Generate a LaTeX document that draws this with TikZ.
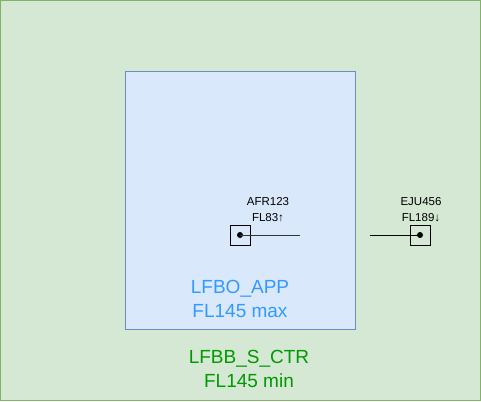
\documentclass[tikz,border=0pt]{standalone}
\usepackage{fontspec}
\setmainfont{Liberation Sans}
\definecolor{outerfill}{HTML}{D5E8D4}
\definecolor{outerdraw}{HTML}{82B366}
\definecolor{innerfill}{HTML}{DAE8FC}
\definecolor{innerdraw}{HTML}{6C8EBF}
\definecolor{bluetxt}{HTML}{3399FF}
\definecolor{greentxt}{HTML}{009900}
\begin{document}
\begin{tikzpicture}[x=1pt,y=-1pt,
  zone/.style={draw=#1, line width=1pt},
  bigtxt/.style={font=\fontsize{19}{24}\selectfont, align=center, inner sep=0pt},
  smalltxt/.style={font=\fontsize{11.5}{16}\selectfont, align=center, inner sep=0pt},
  acbox/.style={draw=black, line width=0.8pt, minimum width=20pt, minimum height=20pt, inner sep=0pt},
  dotmark/.style={circle, fill=black, inner sep=0pt, minimum size=6pt}]
\useasboundingbox (0,0) rectangle (481,401);
\fill[outerfill] (0,0) rectangle (481,401);
\draw[outerdraw, line width=1.2pt] (0.6,0.6) rectangle (480.4,400.4);
\node[fill=innerfill, draw=innerdraw, line width=0.8pt, minimum width=230pt, minimum height=258pt, inner sep=0pt, anchor=north west] (app) at (125,71) {};
\node[bigtxt, text=bluetxt] (applbl) at (240,299) {LFBO\_APP\\FL145 max};
\node[bigtxt, text=greentxt] (ctrlbl) at (249,369) {LFBB\_S\_CTR\\FL145 min};
% AFR123
\node[acbox] (afrbox) at (240,235) {};
\node[dotmark] (afrdot) at (240,235) {};
\coordinate (afrend) at (300,235);
\draw[line width=0.8pt, draw=black!80] (afrdot.center) -- (afrend);
\node[smalltxt] (afrlbl) at (268,210) {AFR123\\FL83↑};
% EJU456
\node[acbox] (ejubox) at (420,235) {};
\node[dotmark] (ejudot) at (420,235) {};
\coordinate (ejuend) at (370,235);
\draw[line width=0.8pt] (ejudot.center) -- (ejuend);
\node[smalltxt] (ejulbl) at (421,210) {EJU456\\FL189↓};
\end{tikzpicture}
\end{document}
